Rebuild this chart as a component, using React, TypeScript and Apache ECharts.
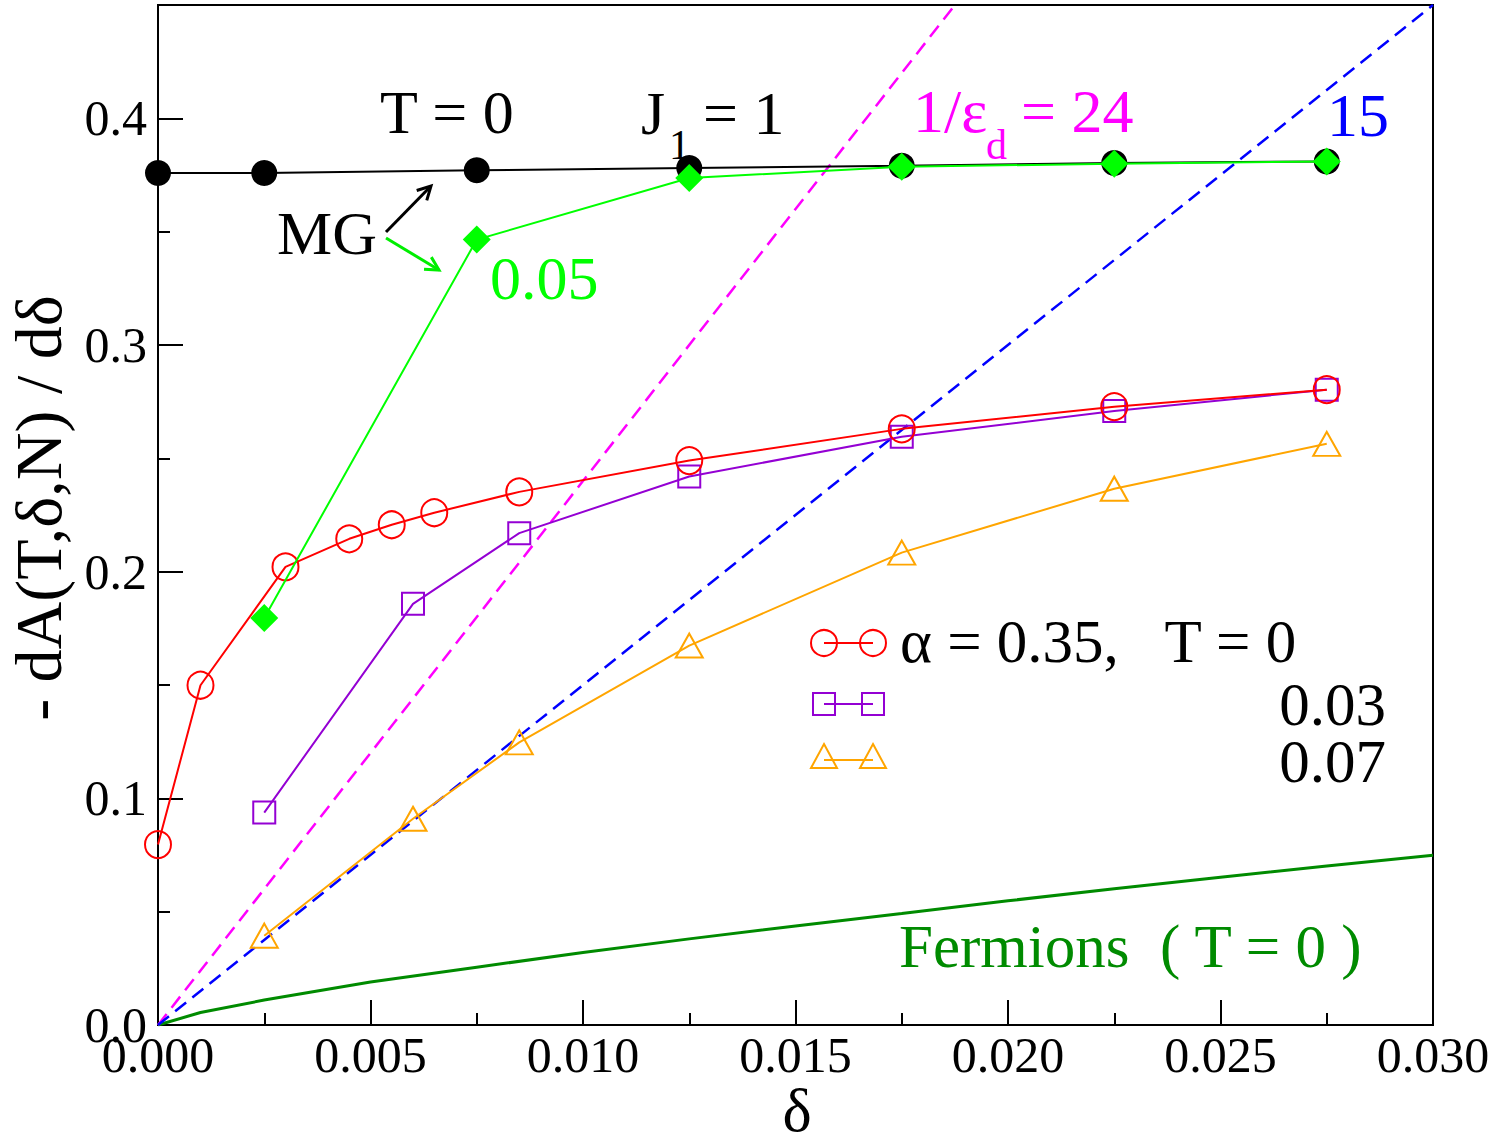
import React, { useEffect, useRef } from "react";
import * as echarts from "echarts";

// ---- data ----
const fermDelta = [0, 0.001, 0.0025, 0.005, 0.0075, 0.01, 0.0125, 0.015, 0.0175, 0.02, 0.0225, 0.025, 0.0275, 0.03];
const fermVal = [0, 0.0055, 0.011, 0.019, 0.0255, 0.032, 0.038, 0.0437, 0.0492, 0.0548, 0.0601, 0.0652, 0.0701, 0.0749];

const eps24Delta = [0, 0.01875];
const eps24Val = [0, 0.45];
const eps15Delta = [0, 0.03];
const eps15Val = [0, 0.45];

const mgDelta = [0, 0.0025, 0.0075, 0.0125, 0.0175, 0.0225, 0.0275];
const mgT0 = [0.3759, 0.3759, 0.3771, 0.3781, 0.3791, 0.3803, 0.381];
const mgT005 = [null, 0.1796, 0.3465, 0.3737, 0.3786, 0.38, 0.381];

const redDelta = [0, 0.001, 0.003, 0.0045, 0.0055, 0.0065, 0.0085, 0.0125, 0.0175, 0.0225, 0.0275];
const redVal = [0.0796, 0.1499, 0.2021, 0.2145, 0.2207, 0.226, 0.2352, 0.249, 0.263, 0.2728, 0.2803];

const tDelta = [0.0025, 0.006, 0.0085, 0.0125, 0.0175, 0.0225, 0.0275];
const purpleVal = [0.0937, 0.1858, 0.217, 0.242, 0.2595, 0.2709, 0.2803];
const orangeVal = [0.0394, 0.091, 0.1247, 0.1674, 0.2084, 0.2366, 0.2564];

const xTicks = { min: 0, max: 0.03, interval: 0.005 };
const yTicks = { min: 0, max: 0.45, interval: 0.1, minor: 0.05 };

const FONT = "'Liberation Serif', 'Times New Roman', serif";

const zip = (xs: number[], ys: (number | null)[]) =>
  xs.map((x, i) => [x, ys[i]]).filter((p) => p[1] !== null);

function arrow(x1: number, y1: number, x2: number, y2: number, color: string) {
  const dx = x2 - x1, dy = y2 - y1;
  const L = Math.hypot(dx, dy);
  const ux = dx / L, uy = dy / L;
  const h = 15, a = (28 * Math.PI) / 180;
  const rot = (vx: number, vy: number, t: number) => [vx * Math.cos(t) - vy * Math.sin(t), vx * Math.sin(t) + vy * Math.cos(t)];
  const [ax, ay] = rot(-ux, -uy, a);
  const [bx, by] = rot(-ux, -uy, -a);
  return [
    { type: "line", shape: { x1, y1, x2, y2 }, style: { stroke: color, lineWidth: 3 } },
    {
      type: "polyline",
      shape: { points: [[x2 + ax * h, y2 + ay * h], [x2, y2], [x2 + bx * h, y2 + by * h]] },
      style: { stroke: color, lineWidth: 3, fill: "none" },
    },
  ];
}

function txt(text: string, x: number, y: number, color: string, size: number, align = "left", extra: any = {}) {
  return {
    type: "text",
    x,
    y,
    ...extra,
    style: { text, fill: color, fontSize: size, fontFamily: FONT, align, verticalAlign: "middle", lineHeight: Math.round(size * 0.9) },
  };
}

export default function App() {
  const ref = useRef<HTMLDivElement>(null);
  useEffect(() => {
    document.body.style.margin = "0";
    const chart = echarts.init(ref.current!, null, { renderer: "svg" });
    const lineAxis = { show: true, lineStyle: { color: "#000", width: 2 } };
    const legendY = [643, 704, 758];
    const graphic: any[] = [
      // annotations
      txt("T = 0", 380, 112, "#000", 62),
      txt("J", 641, 113, "#000", 62),
      txt("1", 669, 145, "#000", 42),
      txt("= 1", 703, 113, "#000", 62),
      txt("MG", 277, 233, "#000", 62),
      txt("0.05", 490, 278, "#00ff00", 62),
      txt("1/ε", 913, 111, "#ff00ff", 62),
      txt("d", 986, 145, "#ff00ff", 42),
      txt("= 24", 1021, 111, "#ff00ff", 62),
      txt("15", 1327, 115, "#0000ff", 62),
      txt("Fermions  ( T = 0 )", 899, 946, "#008b00", 61),
      ...arrow(386, 232, 431, 186, "#000"),
      ...arrow(386, 238, 439, 270, "#00ee00"),
      // legend
      { type: "line", shape: { x1: 824, y1: legendY[0], x2: 873, y2: legendY[0] }, style: { stroke: "#ff0000", lineWidth: 2 } },
      { type: "circle", shape: { cx: 824, cy: legendY[0], r: 13 }, style: { fill: "none", stroke: "#ff0000", lineWidth: 2 } },
      { type: "circle", shape: { cx: 873, cy: legendY[0], r: 13 }, style: { fill: "none", stroke: "#ff0000", lineWidth: 2 } },
      txt("α = 0.35,   T = 0", 900, 641, "#000", 61),
      { type: "line", shape: { x1: 824, y1: legendY[1], x2: 873, y2: legendY[1] }, style: { stroke: "#9400d3", lineWidth: 2 } },
      { type: "rect", shape: { x: 813, y: legendY[1] - 11, width: 22, height: 22 }, style: { fill: "none", stroke: "#9400d3", lineWidth: 2 } },
      { type: "rect", shape: { x: 862, y: legendY[1] - 11, width: 22, height: 22 }, style: { fill: "none", stroke: "#9400d3", lineWidth: 2 } },
      txt("0.03", 1386, 704, "#000", 61, "right"),
      { type: "line", shape: { x1: 824, y1: legendY[2] + 2, x2: 873, y2: legendY[2] + 2 }, style: { stroke: "#ffa500", lineWidth: 2 } },
      { type: "polygon", shape: { points: [[824, legendY[2] - 14], [837, legendY[2] + 10], [811, legendY[2] + 10]] }, style: { fill: "none", stroke: "#ffa500", lineWidth: 2 } },
      { type: "polygon", shape: { points: [[873, legendY[2] - 14], [886, legendY[2] + 10], [860, legendY[2] + 10]] }, style: { fill: "none", stroke: "#ffa500", lineWidth: 2 } },
      txt("0.07", 1386, 761, "#000", 61, "right"),
      // axis titles
      txt("δ", 797, 1110, "#000", 62, "center"),
      txt("- dA(T,δ,N) / dδ", 38, 508, "#000", 66, "center", { rotation: Math.PI / 2 }),
    ];

    const openItem = (c: string) => ({ color: "rgba(255,255,255,0)", borderColor: c, borderWidth: 2 });

    chart.setOption({
      animation: false,
      backgroundColor: "#fff",
      grid: { left: 158, right: 63, top: 5, bottom: 121, show: true, borderColor: "#000", borderWidth: 2, backgroundColor: "transparent" },
      xAxis: {
        type: "value",
        min: xTicks.min,
        max: xTicks.max,
        interval: xTicks.interval,
        axisLine: lineAxis,
        axisTick: { inside: true, length: 25, lineStyle: { color: "#000", width: 2 } },
        minorTick: { show: true, splitNumber: 2, length: 12, lineStyle: { color: "#000", width: 2 } },
        splitLine: { show: false },
        minorSplitLine: { show: false },
        axisLabel: {
          fontSize: 50,
          fontFamily: FONT,
          color: "#000",
          margin: 5,
          formatter: (v: number) => v.toFixed(3),
        },
      },
      yAxis: [
        {
          type: "value",
          min: yTicks.min,
          max: yTicks.max,
          interval: yTicks.interval,
          axisLine: lineAxis,
          axisTick: { inside: true, length: 25, lineStyle: { color: "#000", width: 2 } },
          splitLine: { show: false },
          axisLabel: {
            fontSize: 50,
            fontFamily: FONT,
            color: "#000",
            margin: 11,
            showMaxLabel: false,
            formatter: (v: number) => (Math.abs(v * 10 - Math.round(v * 10)) < 1e-6 ? v.toFixed(1) : ""),
          },
        },
        {
          type: "value",
          min: yTicks.min,
          max: yTicks.max,
          interval: yTicks.minor,
          position: "left",
          axisLine: { show: false },
          axisTick: { inside: true, length: 12, lineStyle: { color: "#000", width: 2 } },
          splitLine: { show: false },
          axisLabel: { show: false },
        },
      ],
      series: [
        {
          type: "line",
          data: zip(fermDelta, fermVal),
          showSymbol: false,
          lineStyle: { color: "#008b00", width: 3 },
          z: 2,
        },
        {
          type: "line",
          data: zip(eps24Delta, eps24Val),
          showSymbol: false,
          lineStyle: { color: "#ff00ff", width: 2.5, type: [14, 8] },
          z: 2,
        },
        {
          type: "line",
          data: zip(eps15Delta, eps15Val),
          showSymbol: false,
          lineStyle: { color: "#0000ff", width: 2.5, type: [14, 8] },
          z: 2,
        },
        {
          type: "line",
          data: zip(tDelta, orangeVal),
          symbol: "triangle",
          symbolSize: [27, 24],
          lineStyle: { color: "#ffa500", width: 2 },
          itemStyle: openItem("#ffa500"),
          z: 3,
        },
        {
          type: "line",
          data: zip(tDelta, purpleVal),
          symbol: "rect",
          symbolSize: 22,
          lineStyle: { color: "#9400d3", width: 2 },
          itemStyle: openItem("#9400d3"),
          z: 3,
        },
        {
          type: "line",
          data: zip(redDelta, redVal),
          symbol: "circle",
          symbolSize: [26, 27],
          lineStyle: { color: "#ff0000", width: 2 },
          itemStyle: openItem("#ff0000"),
          z: 4,
        },
        {
          type: "line",
          data: zip(mgDelta, mgT0),
          symbol: "circle",
          symbolSize: 26,
          lineStyle: { color: "#000", width: 2 },
          itemStyle: { color: "#000" },
          z: 5,
        },
        {
          type: "line",
          data: zip(mgDelta, mgT005),
          symbol: "diamond",
          symbolSize: 28,
          lineStyle: { color: "#00ff00", width: 2 },
          itemStyle: { color: "#00ff00" },
          z: 6,
        },
      ],
      graphic,
    });
    return () => chart.dispose();
  }, []);
  return <div ref={ref} style={{ width: 1496, height: 1146 }} />;
}
